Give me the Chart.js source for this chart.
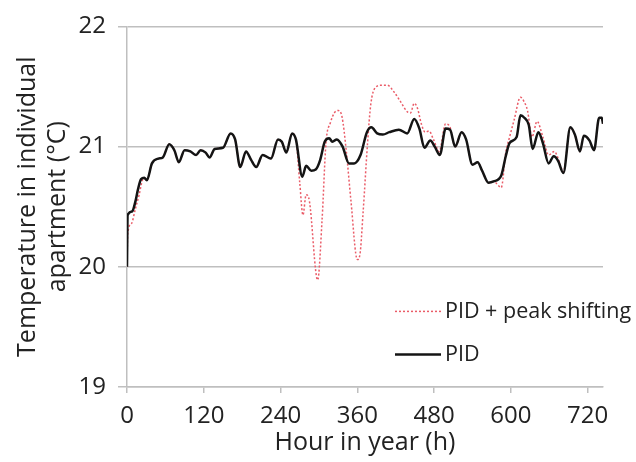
<!DOCTYPE html>
<html>
<head>
<meta charset="utf-8">
<script src="https://cdn.jsdelivr.net/npm/chart.js@4.4.0/dist/chart.umd.min.js"></script>
<style>
  html, body { margin: 0; padding: 0; background: #fff; }
</style>
</head>
<body>
<canvas id="chart" width="636" height="462"></canvas>
<script>
// hours / temperatures
const pidHours = [0, 1, 8, 13, 17, 22, 27, 31, 39, 49, 56, 66, 74, 81, 90, 99, 108, 115, 123, 129, 137, 150,
  162, 169, 177, 186, 194, 202, 212, 225, 236, 242, 249, 258, 264, 274, 280, 288, 295, 302, 309, 316, 321,
  328, 337, 347, 355, 365, 375, 382, 391, 400, 410, 425, 438, 449, 457, 465, 474, 481, 489, 498, 505, 513,
  523, 530, 540, 548, 555, 565, 573, 585, 592, 598, 609, 615, 621, 628, 634, 643, 650, 659, 667, 674, 682,
  693, 700, 708, 714, 723, 730, 738, 742, 744];
const pidTemp = [20.00, 20.43, 20.46, 20.54, 20.64, 20.73, 20.74, 20.72, 20.86, 20.90, 20.91, 21.02, 20.97,
  20.87, 20.97, 20.96, 20.93, 20.97, 20.95, 20.91, 20.98, 20.99, 21.11, 21.06, 20.83, 20.96, 20.89, 20.83,
  20.93, 20.90, 21.06, 21.04, 20.95, 21.11, 21.06, 20.75, 20.84, 20.80, 20.81, 20.89, 21.04, 21.07, 21.04,
  21.06, 21.00, 20.86, 20.86, 20.93, 21.12, 21.16, 21.11, 21.10, 21.12, 21.14, 21.11, 21.23, 21.15, 20.99,
  21.05, 21.00, 20.93, 21.15, 21.14, 21.00, 21.12, 21.06, 20.85, 20.87, 20.80, 20.70, 20.71, 20.76, 20.92,
  21.03, 21.08, 21.26, 21.24, 21.18, 20.98, 21.12, 21.03, 20.86, 20.92, 20.88, 20.78, 21.16, 21.10, 20.96,
  21.09, 21.05, 20.97, 21.24, 21.24, 21.19];

const shiftHours = [0, 1, 7, 13, 19, 24, 27, 31, 39, 49, 56, 66, 74, 81, 90, 99, 108, 115, 123, 129, 137, 150,
  162, 169, 177, 186, 194, 202, 212, 225, 236, 242, 249, 258, 264, 270, 275, 280, 285, 298, 305, 311, 318,
  324, 330, 336, 343, 350, 360, 364, 369, 376, 381, 388, 398, 407, 418, 428, 438, 443, 449, 454, 460, 466,
  472, 479, 488, 498, 505, 513, 523, 530, 540, 548, 555, 565, 573, 585, 592, 598, 605, 615, 620, 626, 633,
  641, 650, 659, 668, 674, 682, 693, 700, 708, 714, 723, 730, 738, 742, 744];
const shiftTemp = [20.00, 20.27, 20.36, 20.48, 20.60, 20.72, 20.74, 20.72, 20.86, 20.90, 20.91, 21.02, 20.97,
  20.87, 20.97, 20.96, 20.93, 20.97, 20.95, 20.91, 20.98, 20.99, 21.11, 21.06, 20.83, 20.96, 20.89, 20.83,
  20.93, 20.90, 21.06, 21.04, 20.95, 21.11, 21.06, 20.70, 20.43, 20.60, 20.55, 19.89, 20.40, 21.03, 21.20,
  21.28, 21.30, 21.25, 20.95, 20.55, 20.06, 20.10, 20.45, 21.03, 21.35, 21.49, 21.51, 21.51, 21.45, 21.37,
  21.29, 21.28, 21.36, 21.32, 21.19, 21.12, 21.13, 21.06, 20.96, 21.19, 21.16, 21.00, 21.12, 21.06, 20.85,
  20.87, 20.80, 20.70, 20.71, 20.66, 20.95, 21.08, 21.22, 21.41, 21.38, 21.30, 21.08, 21.21, 21.08, 20.93,
  20.96, 20.90, 20.79, 21.16, 21.10, 20.96, 21.09, 21.05, 20.97, 21.24, 21.24, 21.19];

const seriesNames = ['PID + peak shifting', 'PID'];
const yTicks = [19, 20, 21, 22];
const xTicks = [0, 120, 240, 360, 480, 600, 720];

const FONT = "'Open Sans', 'Noto Sans', sans-serif";
const TEXT = '#222222';
const GRID = '#bfbfbf';

function toPoints(xs, ys) {
  return xs.map((x, i) => ({ x: x, y: ys[i] }));
}

// legend drawn inside the plot, lower right
const insideLegend = {
  id: 'insideLegend',
  afterDatasetsDraw(chart) {
    const ctx = chart.ctx;
    const area = chart.chartArea;
    const lineX0 = area.left + 268;
    const lineX1 = lineX0 + 46;
    const rowY = [area.top + 285, area.top + 328];
    ctx.save();
    chart.data.datasets.forEach((ds, i) => {
      const y = rowY[i];
      ctx.beginPath();
      ctx.strokeStyle = ds.borderColor;
      ctx.lineWidth = ds.borderWidth;
      ctx.setLineDash(ds.borderDash || []);
      ctx.moveTo(lineX0, y);
      ctx.lineTo(lineX1, y);
      ctx.stroke();
      ctx.setLineDash([]);
      ctx.fillStyle = TEXT;
      ctx.font = '21.5px ' + FONT;
      ctx.textBaseline = 'middle';
      ctx.textAlign = 'left';
      ctx.fillText(ds.label, lineX1 + 4, y);
    });
    ctx.restore();
  }
};

const ctx = document.getElementById('chart').getContext('2d');
new Chart(ctx, {
  type: 'line',
  data: {
    datasets: [
      {
        label: seriesNames[0],
        data: toPoints(shiftHours, shiftTemp),
        borderColor: '#ea5c68',
        borderWidth: 1.5,
        borderDash: [2, 2],
        pointRadius: 0,
        cubicInterpolationMode: 'monotone',
        fill: false,
        order: 1
      },
      {
        label: seriesNames[1],
        data: toPoints(pidHours, pidTemp),
        borderColor: '#141414',
        borderWidth: 2.5,
        pointRadius: 0,
        cubicInterpolationMode: 'monotone',
        fill: false,
        order: 0
      }
    ]
  },
  options: {
    responsive: false,
    animation: false,
    layout: { padding: { top: 22, right: 33, left: 0, bottom: 0 } },
    plugins: {
      legend: { display: false },
      tooltip: { enabled: false }
    },
    scales: {
      x: {
        type: 'linear',
        min: 0,
        max: 744,
        afterFit: (scale) => { scale.height = 75; },
        afterBuildTicks: (scale) => { scale.ticks = xTicks.map(v => ({ value: v })); },
        ticks: {
          font: { family: FONT, size: 24 },
          color: TEXT,
          padding: 9,
          maxRotation: 0
        },
        grid: {
          drawOnChartArea: false,
          drawTicks: true,
          tickLength: 6,
          color: GRID,
          lineWidth: 1.5
        },
        border: { display: true, color: GRID, width: 1.5 },
        title: {
          display: true,
          text: 'Hour in year (h)',
          font: { family: FONT, size: 25, lineHeight: 1.1 },
          color: TEXT,
          padding: { top: 0, bottom: 5 }
        }
      },
      y: {
        min: 19,
        max: 22,
        afterFit: (scale) => { scale.width = 127; },
        afterBuildTicks: (scale) => { scale.ticks = yTicks.map(v => ({ value: v })); },
        ticks: {
          font: { family: FONT, size: 24 },
          color: TEXT,
          padding: 12
        },
        grid: {
          drawTicks: true,
          tickLength: 9,
          color: GRID,
          lineWidth: 1.5
        },
        border: { display: true, color: GRID, width: 1.5 },
        title: {
          display: true,
          text: ['Temperature in individual', 'apartment (\u00B0C)'],
          font: { family: FONT, size: 25, lineHeight: 1.2 },
          color: TEXT,
          padding: { top: 13, bottom: 0 }
        }
      }
    }
  },
  plugins: [insideLegend]
});
</script>
</body>
</html>
